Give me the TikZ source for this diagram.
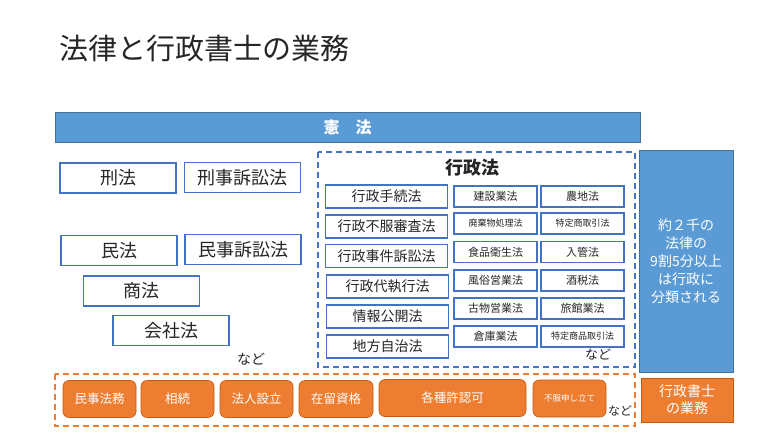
\documentclass[tikz,border=0pt]{standalone}
\usepackage{fontspec}
\setmainfont{Noto Sans CJK JP}
\usepackage{xcolor}
\usetikzlibrary{positioning}
\definecolor{lawblue}{HTML}{4472C4}
\definecolor{barblue}{HTML}{5B9BD5}
\definecolor{barline}{HTML}{41719C}
\definecolor{duty}{HTML}{ED7D31}
\definecolor{dutyline}{HTML}{C55A11}
\definecolor{ink}{HTML}{262626}
\newcommand{\fsz}[1]{\fontsize{#1}{#1}\selectfont}
\tikzset{
  law/.style={draw=lawblue,line width=1.8pt,inner sep=0pt,text=ink,
    minimum width=116,minimum height=30,font=\fsz{18}},
  admin/.style={draw=lawblue,line width=1.6pt,inner sep=0pt,text=ink,
    minimum width=122,minimum height=23,font=\fsz{14}},
  act/.style={draw=lawblue,line width=1.4pt,inner sep=0pt,text=ink,
    minimum width=83,minimum height=21,font=\fsz{11}},
  smallact/.style={act,font=\fsz{9}},
  bar/.style={fill=barblue,draw=barline,line width=0.6pt,inner sep=0pt,text=white},
  task/.style={fill=duty,draw=dutyline,line width=0.6pt,rounded corners=6pt,
    inner sep=0pt,text=white,minimum height=37,font=\fsz{12.5}},
  group/.style={line width=1.6pt,dash pattern=on 6pt off 4pt},
  etc/.style={text=ink,inner sep=0pt}
}
\begin{document}
\begin{tikzpicture}[x=1pt,y=-1pt]
\useasboundingbox[fill=white] (0,0) rectangle (778,438);
% title
\node[anchor=west,text=ink,inner sep=0pt,font=\fsz{29}] (title) at (59,48) {法律と行政書士の業務};
% constitution
\node[bar,minimum width=585,minimum height=30,font=\bfseries\fsz{16}] (kenpo) at (347.5,127) {憲　法};
% criminal, civil, commercial
\node[law] (keiho) at (118,178) {刑法};
\node[law] (keiso) at (242.5,177.5) {刑事訴訟法};
\node[law] (minpo) at (119,250.5) {民法};
\node[law] (minso) at (243,249.5) {民事訴訟法};
\node[law] (shoho) at (141.5,291) {商法};
\node[law] (kaisha) at (171,330.5) {会社法};
\node[etc,font=\fsz{14}] (nadoA) at (251,359) {など};
% administrative law
\draw[group,draw=lawblue] (318,152) rectangle (635,367);
\node[text=ink,font=\bfseries\fsz{18}] (gyoseiho) at (472,168) {行政法};
\node[admin] (tetsuzuki) at (386.5,196.5) {行政手続法};
\node[admin] (fufuku) at (386.5,226.5) {行政不服審査法};
\node[admin] (jiken) at (386.5,256) {行政事件訴訟法};
\node[admin] (daishikko) at (387.5,286.5) {行政代執行法};
\node[admin] (joho) at (387.5,316.5) {情報公開法};
\node[admin] (chiho) at (387.5,346.5) {地方自治法};
\node[act] (kensetsu) at (495.5,196.5) {建設業法};
\node[smallact] (haikibutsu) at (495.5,223.5) {廃棄物処理法};
\node[act] (shokuhin) at (495.5,252) {食品衛生法};
\node[act] (fuzoku) at (495.5,280.5) {風俗営業法};
\node[act] (kobutsu) at (495.5,308.5) {古物営業法};
\node[act] (soko) at (495.5,336.5) {倉庫業法};
\node[act] (nochi) at (582.5,196.5) {農地法};
\node[smallact] (tokusho) at (582.5,223.5) {特定商取引法};
\node[act] (nyukan) at (582.5,252) {入管法};
\node[act] (shuzei) at (582.5,280.5) {酒税法};
\node[act] (ryokan) at (582.5,308.5) {旅館業法};
\node[smallact] (tokuhin) at (582.5,336.5) {特定商品取引法};
\node[etc,font=\fsz{13}] (nadoB) at (598,355) {など};
% share of administrative law
\node[bar,minimum width=94,minimum height=222,align=center,
  font=\fontsize{14}{18}\selectfont] (share) at (686,261) {約２千の\\法律の\\9割5分以上\\は行政に\\分類される};
% work of gyoseishoshi
\draw[group,draw=duty] (55,374) rectangle (635,426);
\node[task,minimum width=73] (minji) at (99.5,399) {民事法務};
\node[task,minimum width=73] (sozoku) at (177.5,399) {相続};
\node[task,minimum width=73] (hojin) at (256.5,399) {法人設立};
\node[task,minimum width=74] (zairyu) at (336,399) {在留資格};
\node[task,minimum width=147] (kyoninka) at (452.5,398) {各種許認可};
\node[task,minimum width=73,font=\fsz{8.5}] (moshitate) at (569.5,398.5) {不服申し立て};
\node[etc,font=\fsz{12}] (nadoC) at (620,411) {など};
\node[bar,fill=duty,draw=dutyline,minimum width=92,minimum height=44,align=center,
  font=\fontsize{14}{17}\selectfont] (shoshi) at (687,400) {行政書士\\の業務};
\end{tikzpicture}
\end{document}
